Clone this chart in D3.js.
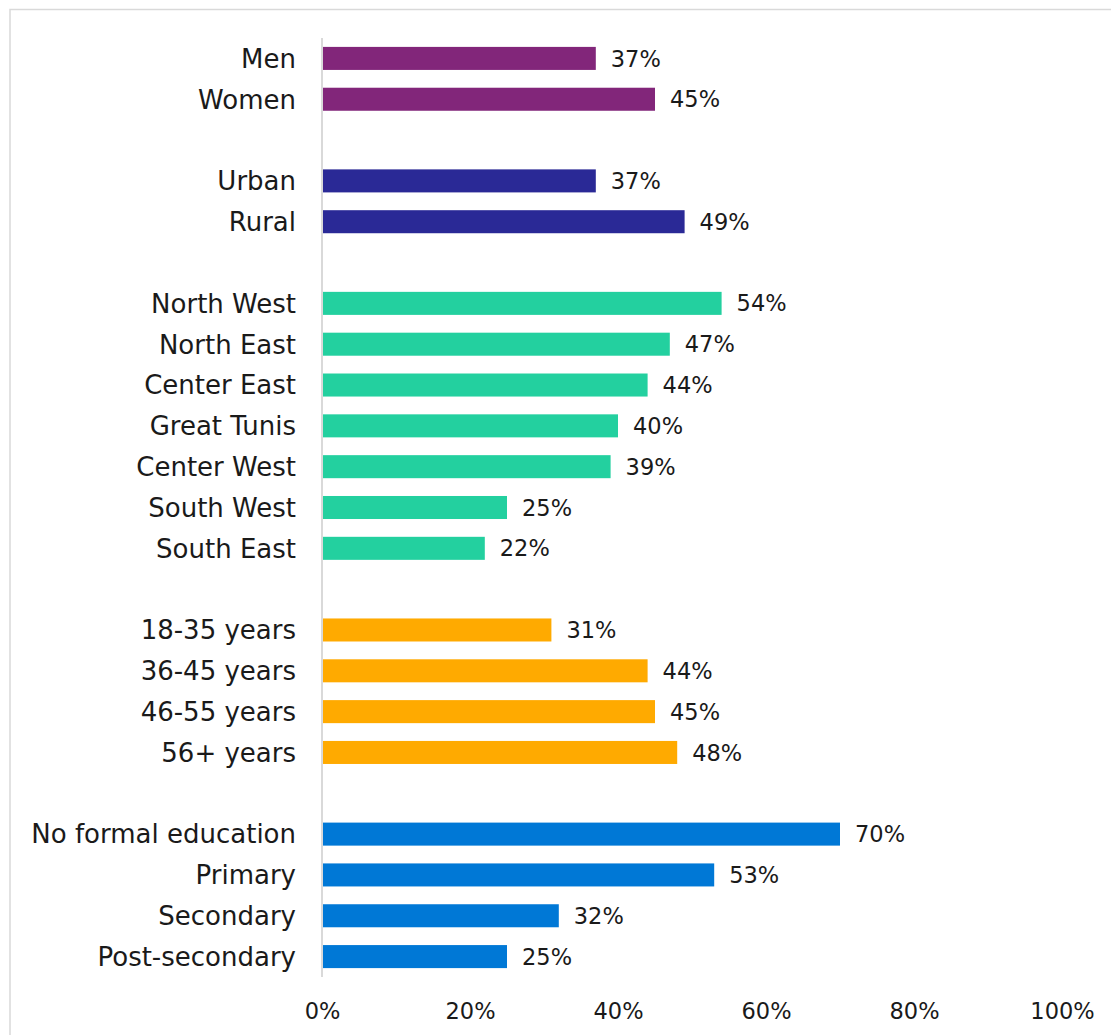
<!DOCTYPE html>
<html>
<head>
<meta charset="utf-8">
<script src="https://cdn.jsdelivr.net/npm/d3@7"></script>
<style>
  html, body { margin: 0; padding: 0; background: #fff; }
  svg { display: block; }
  text { font-family: "DejaVu Sans", sans-serif; fill: #1a1a1a; }
</style>
</head>
<body>
<svg id="chart" width="1111" height="1035"></svg>
<script>
// ---- data ----
const genderLabels = ["Men", "Women"];
const genderValues = [37, 45];
const areaLabels = ["Urban", "Rural"];
const areaValues = [37, 49];
const regionLabels = ["North West", "North East", "Center East", "Great Tunis", "Center West", "South West", "South East"];
const regionValues = [54, 47, 44, 40, 39, 25, 22];
const ageLabels = ["18-35 years", "36-45 years", "46-55 years", "56+ years"];
const ageValues = [31, 44, 45, 48];
const eduLabels = ["No formal education", "Primary", "Secondary", "Post-secondary"];
const eduValues = [70, 53, 32, 25];
const groupColors = ["#82267A", "#2A2996", "#23D09F", "#FFAA00", "#0078D6"];
const tickValues = [0, 20, 40, 60, 80, 100];

const groups = [
  [genderLabels, genderValues],
  [areaLabels, areaValues],
  [regionLabels, regionValues],
  [ageLabels, ageValues],
  [eduLabels, eduValues]
];

// build rows with spacer slots between groups
const rows = [];
const domain = [];
groups.forEach(([labels, values], gi) => {
  if (gi > 0) domain.push("__gap" + gi);
  labels.forEach((l, i) => {
    rows.push({ label: l, value: values[i], group: gi });
    domain.push(l);
  });
});

const svg = d3.select("#chart");

// outer frame
svg.append("rect")
  .attr("x", 10).attr("y", 9.5)
  .attr("width", 1120).attr("height", 1040)
  .attr("fill", "none").attr("stroke", "#d9d9d9").attr("stroke-width", 1.5);

const x = d3.scaleLinear().domain([0, 100]).range([322, 1062]);
const y = d3.scaleBand().domain(domain).range([38, 977]).paddingInner(0.436).paddingOuter(0.218);

// bars
svg.append("g").selectAll("rect")
  .data(rows).join("rect")
  .attr("x", x(0) + 1)
  .attr("y", d => y(d.label))
  .attr("width", d => x(d.value) - x(0) - 1)
  .attr("height", y.bandwidth())
  .attr("fill", d => groupColors[d.group]);

// vertical axis line
svg.append("line")
  .attr("x1", x(0)).attr("x2", x(0))
  .attr("y1", 38).attr("y2", 977)
  .attr("stroke", "#d9d9d9").attr("stroke-width", 2);

// category labels
svg.append("g").selectAll("text")
  .data(rows).join("text")
  .attr("x", 296)
  .attr("y", d => y(d.label) + y.bandwidth() / 2)
  .attr("dy", "0.36em")
  .attr("text-anchor", "end")
  .style("font-size", "26px")
  .text(d => d.label);

// value labels
svg.append("g").selectAll("text")
  .data(rows).join("text")
  .attr("x", d => x(d.value) + 15)
  .attr("y", d => y(d.label) + y.bandwidth() / 2)
  .attr("dy", "0.36em")
  .style("font-size", "22.5px")
  .text(d => d.value + "%");

// x axis
const xAxis = d3.axisBottom(x)
  .tickValues(tickValues)
  .tickSize(0)
  .tickPadding(0)
  .tickFormat(d => d + "%");
const ax = svg.append("g").attr("transform", "translate(0,1011)").call(xAxis);
ax.select(".domain").remove();
ax.selectAll("text")
  .attr("y", 0).attr("dy", "0.36em")
  .style("font-family", "\"DejaVu Sans\", sans-serif")
  .style("font-size", "22.5px")
  .style("fill", "#1a1a1a");
</script>
</body>
</html>
